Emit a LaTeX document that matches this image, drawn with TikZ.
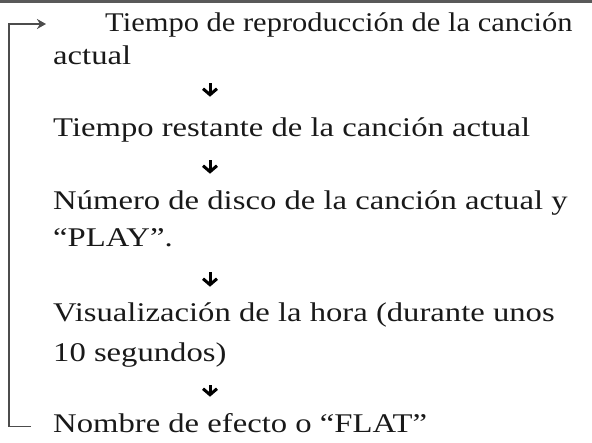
\documentclass[tikz,border=0pt]{standalone}
\usepackage{fontspec}
\setmainfont[FakeStretch=1.21]{Liberation Serif}
\usetikzlibrary{arrows.meta}

\begin{document}
\begin{tikzpicture}[
            x=1pt, y=-1pt,
            item/.style={anchor=base west, inner sep=0pt, align=left, text=black!90,
                         font=\fontsize{27}{33}\selectfont},
            nextarrow/.style={-{Straight Barb[length=6pt,width=14pt]}, line width=3pt, shorten <=13pt, shorten >=13pt},
            back/.style={-{Stealth[length=9pt,width=10pt]}, draw=black!70, line width=1.6pt}
        ]
            \useasboundingbox (0,0) rectangle (592,443);
            \draw[black!65, line width=2.6pt] (0,1.3) -- (592,1.3);

            % Display items (anchored at the last baseline)
            \node[item] (t1) at (53,65) {\hspace*{52pt}{\addfontfeature{FakeStretch=1.13}Tiempo de reproducción de la canción}\strut\\ actual\strut};
            \node[item] (t2) at (53,137) {Tiempo restante de la canción actual\strut};
            \node[item] (t3) at (53,247) {Número de disco de la canción actual y\strut\\[4pt] “PLAY”.\strut};
            \node[item] (t4) at (53,362) {Visualización de la hora (durante unos\strut\\[7pt] 10 segundos)\strut};
            \node[item] (t5) at (53,433) {Nombre de efecto o “FLAT”\strut};
            \coordinate (entry) at (46,24);

            % Arrows
            \draw[nextarrow, shorten <=8pt, shorten >=17pt] (t1.south -| 210,0) -- (t2.north -| 210,0);
            \draw[nextarrow] (t2.south -| 210,0) -- (t3.north -| 210,0);
            \draw[nextarrow, shorten <=15pt, shorten >=12pt] (t3.south -| 210,0) -- (t4.north -| 210,0);
            \draw[nextarrow] (t4.south -| 210,0) -- (t5.north -| 210,0);
            \draw[back, shorten <=22pt] (t5.west) -- ++(-44,0) |- (entry);
        \end{tikzpicture}
\end{document}
